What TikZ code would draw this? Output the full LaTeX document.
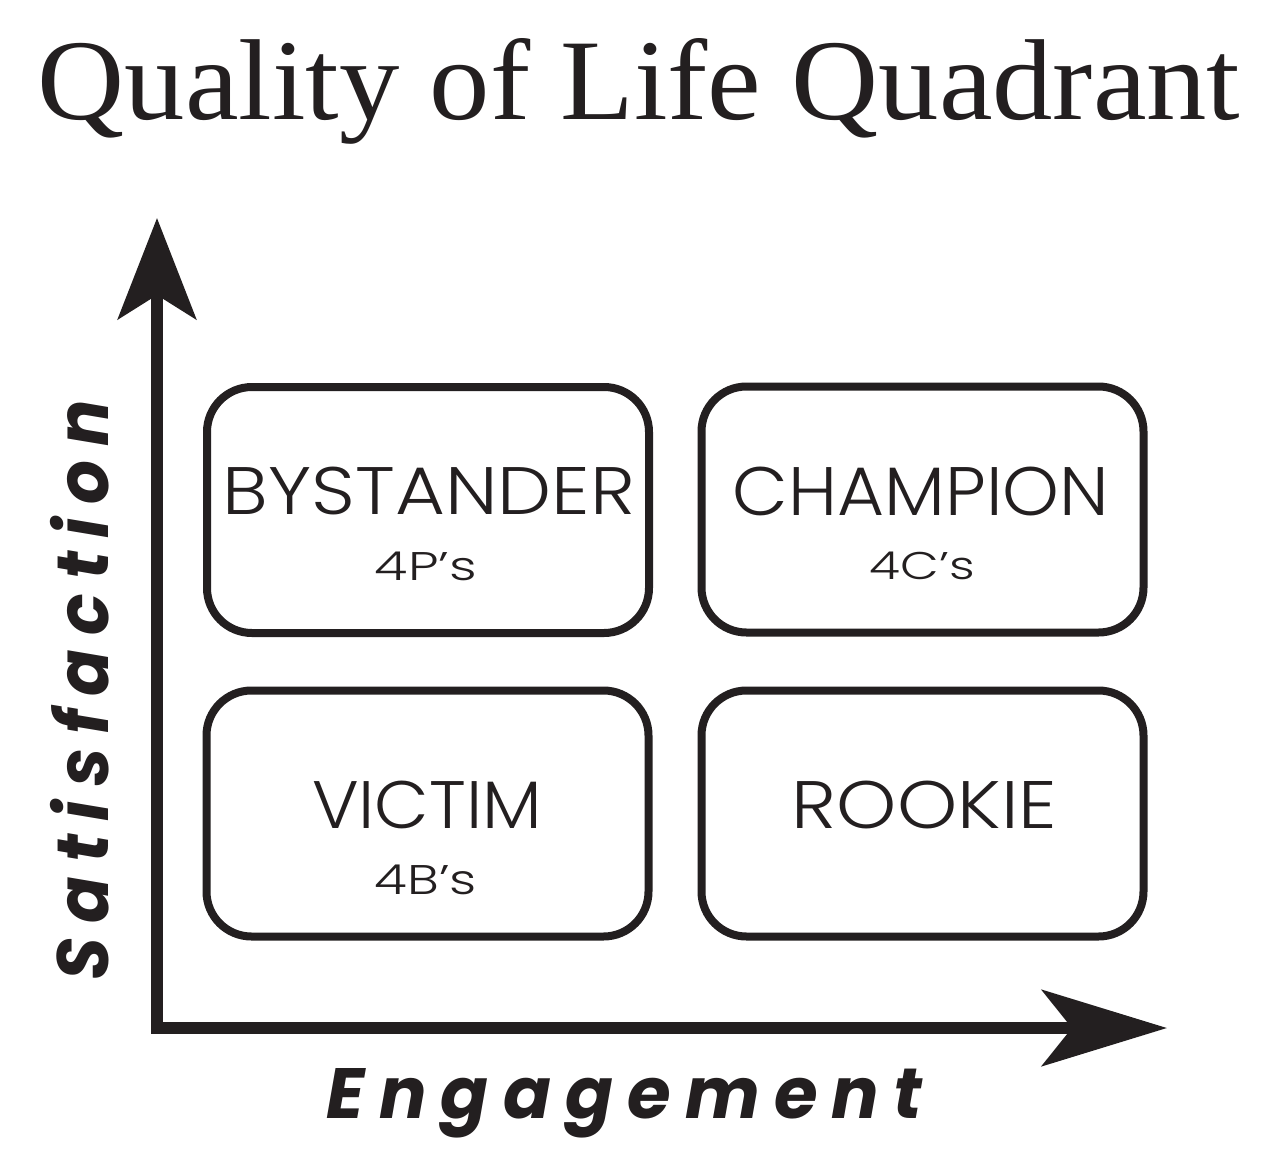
\documentclass[tikz,border=0pt]{standalone}
\usepackage{graphicx}
\usepackage{fontspec}
\setmainfont{Liberation Serif}
\newfontfamily\labelfont{Poppins Light}
\newfontfamily\axisfont{Poppins}[LetterSpace=20]
\usetikzlibrary{arrows.meta}
\definecolor{ink}{RGB}{35,31,32}
\newcommand{\capfit}[3]{\resizebox{#1}{#2}{\smash{#3}\vphantom{E}}}
\tikzset{
  quad/.style={draw=ink, line width=8pt, rounded corners=45pt, minimum width=442pt, minimum height=246pt, inner sep=0pt, outer sep=0pt},
  lbl/.style={anchor=base, inner sep=0pt, outer sep=0pt, text=ink, font=\labelfont},
  axlbl/.style={anchor=base, inner sep=0pt, outer sep=0pt, text=ink, font=\axisfont\bfseries\itshape},
  axisline/.style={draw=ink, line width=12pt, line join=miter}
}
\begin{document}
\begin{tikzpicture}[x=1pt,y=-1pt]
\useasboundingbox[fill=white] (0,0) rectangle (1270,1160);
% title
\node[anchor=base, inner sep=0pt, text=ink] (title) at (639,119) {\resizebox{1202pt}{81pt}{Quality of Life Quadrant}};
% axes
\coordinate (origin) at (157,1028);
\coordinate (ytip) at (157,218);
\coordinate (xtip) at (1167,1028);
\draw[axisline, {Stealth[length=101pt, width=78pt, inset=24pt, fill=ink]}-{Stealth[length=125pt, width=76pt, inset=30pt, fill=ink]}] (ytip) -- (origin) -- (xtip);
% boxes
\node[quad] (bys) at (428,510) {};
\node[quad] (cha) at (922.5,509.5) {};
\node[quad] (vic) at (427.5,813.5) {};
\node[quad] (roo) at (922.5,813.5) {};
% labels
\node[lbl] (bysname) at (429,514) {\capfit{412pt}{47pt}{BYSTANDER}};
\node[lbl] (bysnote) at (426,580) {\capfit{102pt}{28pt}{4P’s}};
\node[lbl] (chaname) at (921,515) {\capfit{376pt}{48pt}{CHAMPION}};
\node[lbl] (chanote) at (922.5,579) {\capfit{105pt}{27pt}{4C’s}};
\node[lbl] (vicname) at (427,828) {\capfit{230pt}{47pt}{VICTIM}};
\node[lbl] (vicnote) at (426,894) {\capfit{102pt}{29pt}{4B’s}};
\node[lbl] (rooname) at (924.5,828) {\capfit{265pt}{47pt}{ROOKIE}};
% axis labels
\node[axlbl] (xlabel) at (624.5,1118) {\capfit{595pt}{50pt}{Engagement}};
\node[axlbl, rotate=90] (ylabel) at (108,690) {\capfit{580pt}{51pt}{Satisfaction}};
\end{tikzpicture}
\end{document}
